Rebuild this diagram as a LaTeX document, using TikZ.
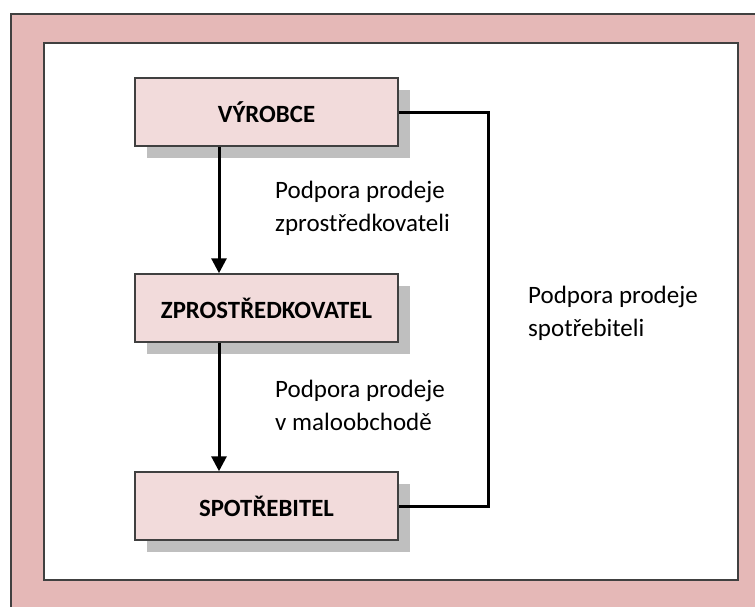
\documentclass[tikz,border=0pt]{standalone}
\usepackage{fontspec}
\setmainfont{Carlito}
\usetikzlibrary{arrows.meta,shadows}
\definecolor{framepink}{HTML}{E5B8B7}
\definecolor{boxpink}{HTML}{F2DBDB}
\definecolor{shadowgray}{HTML}{BFBFBF}
\definecolor{edgegray}{HTML}{404040}
\begin{document}
\begin{tikzpicture}[x=1pt,y=-1pt,
  stagebox/.style={draw=edgegray, line width=1.5pt, fill=boxpink,
    minimum width=263pt, minimum height=68pt, inner sep=0pt,
    font=\bfseries\fontsize{24.8}{28}\selectfont,
    drop shadow={shadow xshift=12pt, shadow yshift=-12pt, fill=shadowgray, opacity=1}},
  flow/.style={line width=3pt, -{Triangle[length=15pt,width=15pt]}},
  link/.style={line width=3pt, line join=miter},
  note/.style={align=left, anchor=base west, inner sep=0pt,
    font=\fontsize{25}{33}\selectfont}]
\useasboundingbox (0,0) rectangle (755,606);
\fill[white] (0,0) rectangle (755,606);
\begin{scope}
  \clip (0,0) rectangle (755,606);
  \draw[edgegray, line width=2pt, fill=framepink] (11,14) rectangle (775,625);
\end{scope}
\draw[edgegray, line width=1.5pt, fill=white] (44,43) rectangle (738,580);

\node[stagebox] (vyr) at (266.5,112) {VÝROBCE};
\node[stagebox] (zpr) at (266.5,308) {ZPROSTŘEDKOVATEL};
\node[stagebox] (spo) at (266.5,506) {SPOTŘEBITEL};

\coordinate (ax) at (219,0);
\coordinate (rx) at (488,0);
\draw[flow] (vyr.south -| ax) -- (zpr.north -| ax);
\draw[flow] (zpr.south -| ax) -- (spo.north -| ax);
\draw[link] (vyr.east) -- (vyr.east -| rx) -- (spo.east -| rx) -- (spo.east);

\node[note] (n1) at (275,231) {Podpora prodeje\\zprostředkovateli};
\node[note] (n2) at (275,430) {Podpora prodeje\\v maloobchodě};
\node[note] (n3) at (528,336) {Podpora prodeje\\spotřebiteli};
\end{tikzpicture}
\end{document}
